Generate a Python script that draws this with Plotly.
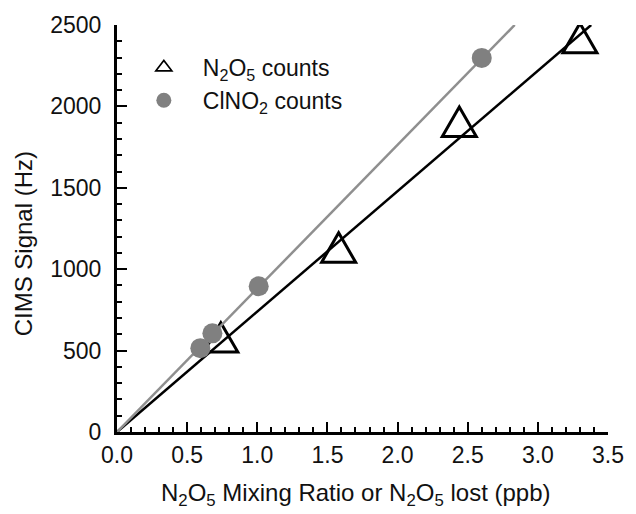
import plotly.graph_objects as go

# N2O5 calibration: CIMS signal vs. N2O5 mixing ratio (ppb)
n2o5_ppb = [0.74, 1.58, 2.44, 3.30]
n2o5_hz = [551, 1103, 1875, 2390]

# ClNO2 signal vs. N2O5 lost (ppb)
clno2_ppb = [0.594, 0.68, 1.01, 2.60]
clno2_hz = [515, 606, 895, 2298]

# linear fits through the origin (end points)
n2o5_fit_x = [0.0, 3.38]
n2o5_fit_y = [0, 2500]
clno2_fit_x = [0.0, 2.835]
clno2_fit_y = [0, 2500]

x_ticks = [0.0, 0.5, 1.0, 1.5, 2.0, 2.5, 3.0, 3.5]
y_ticks = [0, 500, 1000, 1500, 2000, 2500]

FONT = "Liberation Sans, Arial, sans-serif"
TEXT = "#111111"
GRAY_LINE = "#8f8f8f"
GRAY_DOT = "#808080"

fig = go.Figure()

fig.add_trace(go.Scatter(x=n2o5_fit_x, y=n2o5_fit_y, mode="lines",
                         line=dict(color="black", width=2.5),
                         showlegend=False, hoverinfo="skip"))
fig.add_trace(go.Scatter(x=clno2_fit_x, y=clno2_fit_y, mode="lines",
                         line=dict(color=GRAY_LINE, width=2.5),
                         showlegend=False, hoverinfo="skip"))

# open equilateral triangles for the N2O5 points, anchored at the data values
side = 34.0
h = side * 0.8660254
tri_path = "M {:.2f},{:.2f} L {:.2f},{:.2f} L 0,{:.2f} Z".format(
    -side / 2, -h / 3, side / 2, -h / 3, 2 * h / 3)
for xv, yv in zip(n2o5_ppb, n2o5_hz):
    fig.add_shape(type="path", xref="x", yref="y",
                  xsizemode="pixel", ysizemode="pixel",
                  xanchor=xv, yanchor=yv, path=tri_path,
                  line=dict(color="black", width=3),
                  fillcolor="rgba(0,0,0,0)", layer="below")

fig.add_trace(go.Scatter(x=n2o5_ppb, y=n2o5_hz, mode="markers",
                         marker=dict(size=1, color="rgba(0,0,0,0)"),
                         showlegend=False))
fig.add_trace(go.Scatter(x=clno2_ppb, y=clno2_hz, mode="markers",
                         marker=dict(size=20, color=GRAY_DOT, line=dict(width=0)),
                         showlegend=False))

# legend entries
fig.add_trace(go.Scatter(x=[None], y=[None], mode="markers",
                         name="N<sub>2</sub>O<sub>5</sub> counts",
                         marker=dict(symbol="triangle-up-open", size=14,
                                     color="black", line=dict(width=1.6))))
fig.add_trace(go.Scatter(x=[None], y=[None], mode="markers",
                         name="ClNO<sub>2</sub> counts",
                         marker=dict(size=15, color=GRAY_DOT, line=dict(width=0))))

axis_common = dict(
    showline=True, linewidth=3, linecolor="black", mirror=False,
    showgrid=False, zeroline=False,
    ticks="inside", ticklen=10, tickwidth=2, tickcolor="black",
    tickfont=dict(family=FONT, size=23, color=TEXT),
)

fig.update_xaxes(range=[0, 3.5], tickvals=x_ticks, tickformat=".1f",
                 minor=dict(ticks="inside", ticklen=5, tickwidth=2,
                            tickcolor="black", dtick=0.1, tick0=0),
                 **axis_common)
fig.update_yaxes(range=[0, 2500], tickvals=y_ticks, ticklabelstandoff=8,
                 minor=dict(ticks="inside", ticklen=5, tickwidth=2,
                            tickcolor="black", dtick=100, tick0=0),
                 **axis_common)

W, H = 636, 514
ml, mr, mt, mb = 117, 18, 24, 82
pw, ph = W - ml - mr, H - mt - mb


def px_x(p):
    return (p - ml) / pw


def px_y(p):
    return (H - mb - p) / ph


fig.add_annotation(text="N<sub>2</sub>O<sub>5</sub> Mixing Ratio or N<sub>2</sub>O<sub>5</sub> lost (ppb)",
                   xref="paper", yref="paper", x=px_x(361), y=px_y(495),
                   showarrow=False, xanchor="center", yanchor="middle",
                   font=dict(family=FONT, size=24, color=TEXT))
fig.add_annotation(text="CIMS Signal (Hz)", textangle=-90,
                   xref="paper", yref="paper", x=px_x(22), y=px_y(243),
                   showarrow=False, xanchor="center", yanchor="middle",
                   font=dict(family=FONT, size=24, color=TEXT))

fig.update_layout(
    width=W, height=H,
    margin=dict(l=ml, r=mr, t=mt, b=mb),
    paper_bgcolor="white", plot_bgcolor="white",
    showlegend=True,
    legend=dict(x=px_x(125), y=px_y(45), xanchor="left", yanchor="top",
                bgcolor="rgba(0,0,0,0)", itemwidth=68,
                font=dict(family=FONT, size=23, color=TEXT),
                tracegroupgap=0),
)

fig.write_html("out.html")
